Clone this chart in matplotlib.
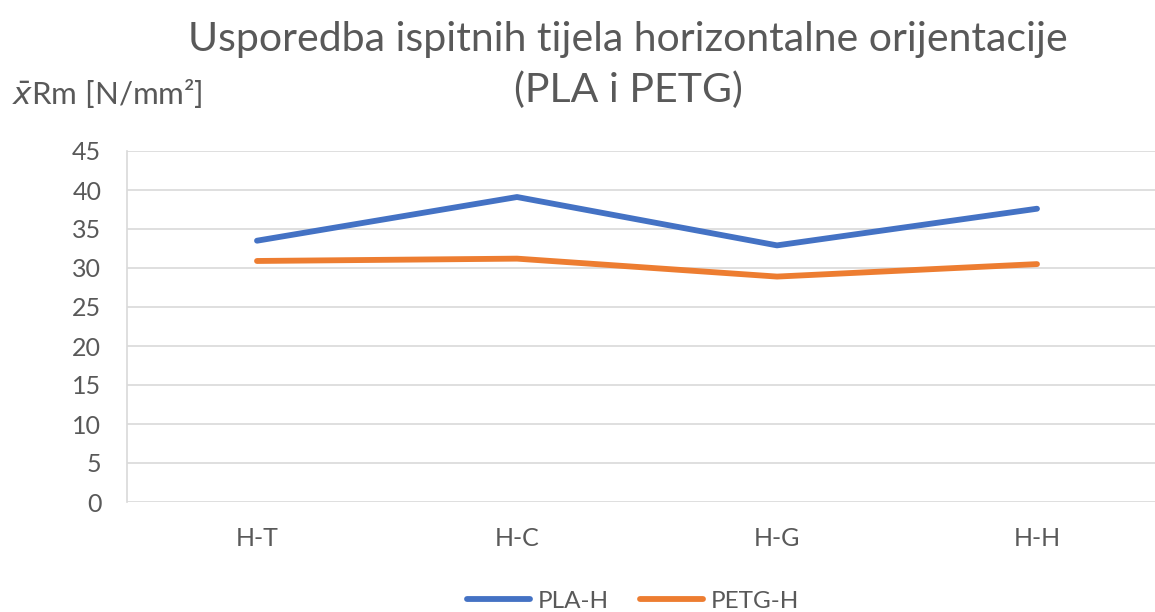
import matplotlib
matplotlib.use("Agg")
import matplotlib.pyplot as plt

plt.rcParams['font.family'] = ['Lato', 'DejaVu Sans']

categories = ["H-T", "H-C", "H-G", "H-H"]
pla_h = [33.5, 39.1, 32.9, 37.6]
petg_h = [30.9, 31.2, 28.9, 30.5]
y_ticks = [0, 5, 10, 15, 20, 25, 30, 35, 40, 45]

text_gray = "#595959"
grid_gray = "#D9D9D9"

W, H = 1155, 612
fig = plt.figure(figsize=(W / 100, H / 100), dpi=100)
left, right = 127, 1167
bottom, top = 502, 151
ax = fig.add_axes([left / W, 1 - bottom / H, (right - left) / W, (bottom - top) / H])

x = list(range(len(categories)))
ax.plot(x, pla_h, color="#4472C4", lw=4.2, solid_capstyle="round", solid_joinstyle="round", label="PLA-H")
ax.plot(x, petg_h, color="#ED7D31", lw=4.2, solid_capstyle="round", solid_joinstyle="round", label="PETG-H")

ax.set_xlim(-0.5, len(categories) - 0.5)
ax.set_ylim(0, 45)
ax.set_yticks(y_ticks)
ax.set_xticks(x)
ax.set_xticklabels(categories)
ax.yaxis.grid(True, color=grid_gray, lw=1.2)
ax.set_axisbelow(True)
for s in ["top", "right", "bottom"]:
    ax.spines[s].set_visible(False)
ax.spines["left"].set_color(grid_gray)
ax.spines["left"].set_linewidth(1.2)
ax.tick_params(axis="both", length=0, labelsize=18, colors=text_gray)
ax.tick_params(axis="y", pad=18.5)
ax.tick_params(axis="x", pad=18)

fig.text(628 / W, 1 - 40 / H, "Usporedba ispitnih tijela horizontalne orijentacije",
         ha="center", va="center", fontsize=29.5, color=text_gray)
fig.text(628 / W, 1 - 90 / H, "(PLA i PETG)", ha="center", va="center", fontsize=29.5, color=text_gray)
fig.text(12 / W, 1 - 93 / H, r"$\bar{x}$Rm [N/mm²]", ha="left", va="center", fontsize=22.5, color=text_gray)

leg = fig.legend(loc="center", bbox_to_anchor=(633 / W, 1 - 601 / H), ncol=2, frameon=False,
                 fontsize=17.5, handlelength=2.6, handletextpad=0.3, columnspacing=1.3)
for t in leg.get_texts():
    t.set_color(text_gray)

fig.savefig("out.png", dpi=100)
